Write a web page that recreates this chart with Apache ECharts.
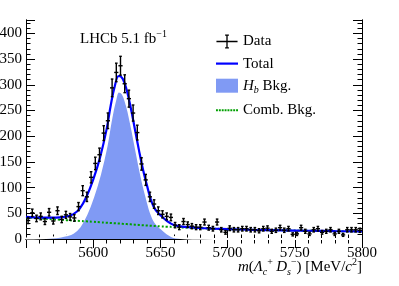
<!DOCTYPE html>
<html><head><meta charset="utf-8">
<script src="https://cdn.jsdelivr.net/npm/echarts@6/dist/echarts.min.js"></script>
<style>html,body{margin:0;padding:0;background:#fff}#c{width:399px;height:286px}</style>
</head><body><div id="c"></div>
<script>
// ---- data ----
const binMin = 5550, binWidth = 3.125;
const counts = [36,51,40,44,34,52,35,55,38,47,43,41,63,94,82,120,147,164,206,230,
  294,324,337,302,273,245,207,146,115,82,68,55,48,44,42,27,23,34,28,25,
  23,23,33,22,20,33,18,13,21,18,18,20,20,18,18,16,20,21,15,17,
  22,17,20,9,10,22,15,10,18,20,13,15,18,10,15,8,18,18,18,17];
const fitX = [5550,5560,5570,5575,5580,5585,5590,5595,5600,5605,5610,5613,5616,5619,5622,5625,5628,5631,5634,5637,5640,5643,5646,5650,5655,5660,5665,5670,5680,5690,5700,5720,5740,5760,5780,5800];
const hbFit = [1,1.5,3,4.5,7,12,24,48,82,125,182,228,266,287,282,260,226,186,146,109,78,50,33,22,11,4,2,1,0.3,0,0,0,0,0,0,0];
const combFit = [42,40.2,38.4,37.5,36.7,35.9,35.1,34.3,33.5,32.6,31.7,31.2,30.6,30.1,29.5,29,28.5,27.9,27.4,26.8,26.3,25.7,25.2,24.5,23.9,23.3,22.7,22.1,21.1,20.1,19.2,17.9,16.9,16,15.3,14.8];
const totalFit = [43,41.7,41.4,42,43.7,47.9,59.1,82.3,115.5,157.6,213.7,259.2,296.6,317.1,311.5,289,254.5,213.9,173.4,135.8,104.3,75.7,58.2,46.5,34.9,27.3,24.7,23.1,21.4,20.1,19.2,17.9,16.9,16,15.3,14.8];
const xTicks = [5550,5600,5650,5700,5750,5800];
const yMax = 426;

const font = 'Liberation Serif';
const fillColor = '#809af4';
const pairs = (xs, ys) => xs.map((x,i)=>[x, ys[i]]);
const dataPts = counts.map((c,i)=>[binMin + binWidth*(i+0.5), c, Math.sqrt(c)]);

const chart = echarts.init(document.getElementById('c'), null, {renderer:'canvas'});
const tickStyle = {lineStyle:{color:'#000', width:1}};
const baseAxisX = {
  type:'value', min:xTicks[0], max:xTicks[xTicks.length-1], interval:50,
  axisLine:{show:true, lineStyle:{color:'#000', width:1}},
  axisTick:{show:true, inside:true, length:9, ...tickStyle},
  minorTick:{show:true, splitNumber:5, length:4.5, ...tickStyle},
  splitLine:{show:false}
};
const yAx = (pos, step, len, labels) => ({
  type:'value', position:pos, min:0, max:yMax, interval:step,
  axisLine:{show:true, onZero:false, lineStyle:{color:'#000', width:1}},
  axisTick:{show:true, inside:true, length:len, ...tickStyle},
  axisLabel:{show:labels, color:'#000', fontFamily:font, fontSize:15, margin:4,
    formatter: v => (v % 50 === 0 ? String(v) : '')},
  splitLine:{show:false}
});
const rich = {
  i:{fontFamily:font, fontSize:15, fontStyle:'italic', color:'#000', lineHeight:20},
  n:{fontFamily:font, fontSize:15, color:'#000', lineHeight:20},
  sub:{fontFamily:font, fontSize:10, fontStyle:'italic', color:'#000', lineHeight:11, verticalAlign:'bottom'},
  sup:{fontFamily:font, fontSize:10, color:'#000', lineHeight:11, verticalAlign:'top'}
};
const dots = (() => { let p = ''; for (let k = 0; k < 22; k += 3) p += `M${k},0h2v2H${k}z `; return 'path://' + p + 'M21.99,0h0.01v2h-0.01z'; })();

chart.setOption({
  animation:false,
  backgroundColor:'#fff',
  grid:{left:26, right:37, top:20, bottom:47, containLabel:false, outerBoundsMode:'none'},
  xAxis:[
    {...baseAxisX, position:'bottom',
      axisLabel:{show:true, color:'#000', fontFamily:font, fontSize:15, margin:7,
        formatter: v => (v === xTicks[0] ? '' : String(v))}
    },
    {...baseAxisX, position:'top', axisLabel:{show:false}}
  ],
  yAxis:[
    yAx('left', 50, 9, true),
    yAx('left', 10, 4.5, false),
    yAx('right', 50, 9, false),
    yAx('right', 10, 4.5, false)
  ],
  legend:{
    orient:'vertical', left:211, top:29, itemWidth:22, itemHeight:14, itemGap:7.1,
    symbolKeepAspect:true,
    textStyle:{fontFamily:font, fontSize:15, color:'#000', rich},
    formatter: n => (n === 'Hb Bkg.' ? '{i|H}{sub|b}{n| Bkg.}' : n),
    data:[
      {name:'Data', icon:'path://M0,6.6h22v1.4H0z M10.3,0h1.4v14.6h-1.4z M9,0h4v1.2H9z M9,13.4h4v1.2H9z', itemStyle:{color:'#000'}},
      {name:'Total', icon:'path://M0,0h22v2.2H0z', itemStyle:{color:'#0000ff', borderWidth:0}},
      {name:'Hb Bkg.', icon:'rect', itemStyle:{color:fillColor, borderWidth:0}},
      {name:'Comb. Bkg.', icon:dots, itemStyle:{color:'#00a000', borderWidth:0}}
    ]
  },
  graphic:[{
    type:'text', left:80, top:29, z:100,
    style:{text:'{n|LHCb 5.1 fb}{sup|−1}', rich, fill:'#000'}
  },{
    type:'text', right:37, top:257, z:100,
    style:{text:'{i|m}{n|(}{i|Λ}{sub|c}{sup|+} {i|D}{sub|s}{sup|−}{n|) [MeV/}{i|c}{sup|2}{n|]}', rich, fill:'#000'}
  }],
  series:[
    {name:'Hb Bkg.', type:'line', data:pairs(fitX, hbFit), smooth:0.4, symbol:'none',
      color:fillColor, lineStyle:{color:'#fff', width:2}, areaStyle:{color:fillColor, opacity:1}, z:1},
    {name:'Comb. Bkg.', type:'line', data:pairs(fitX, combFit), smooth:0.4, symbol:'none',
      color:'#00a000', lineStyle:{color:'#00a000', width:2, type:[2,2]}, z:2},
    {name:'Total', type:'line', data:pairs(fitX, totalFit), smooth:0.4, symbol:'none',
      color:'#0000ff', lineStyle:{color:'#0000ff', width:2.2}, z:3},
    {name:'Data', type:'custom', color:'#000', z:4, data:dataPts,
      encode:{x:0, y:1},
      renderItem:(params, api) => {
        const x = api.value(0), y = api.value(1), e = api.value(2);
        const pL = api.coord([x - binWidth/2, y]);
        const pR = api.coord([x + binWidth/2, y]);
        const pT = api.coord([x, y + e]);
        const pB = api.coord([x, Math.max(y - e, 0)]);
        const st = {stroke:'#000', lineWidth:1.4};
        return {type:'group', children:[
          {type:'line', shape:{x1:pL[0], y1:pL[1], x2:pR[0], y2:pR[1]}, style:st},
          {type:'line', shape:{x1:pT[0], y1:pT[1], x2:pB[0], y2:pB[1]}, style:st},
          {type:'line', shape:{x1:pT[0]-1.3, y1:pT[1], x2:pT[0]+1.3, y2:pT[1]}, style:st},
          {type:'line', shape:{x1:pB[0]-1.3, y1:pB[1], x2:pB[0]+1.3, y2:pB[1]}, style:st}
        ]};
      }
    }
  ]
});
</script></body></html>
